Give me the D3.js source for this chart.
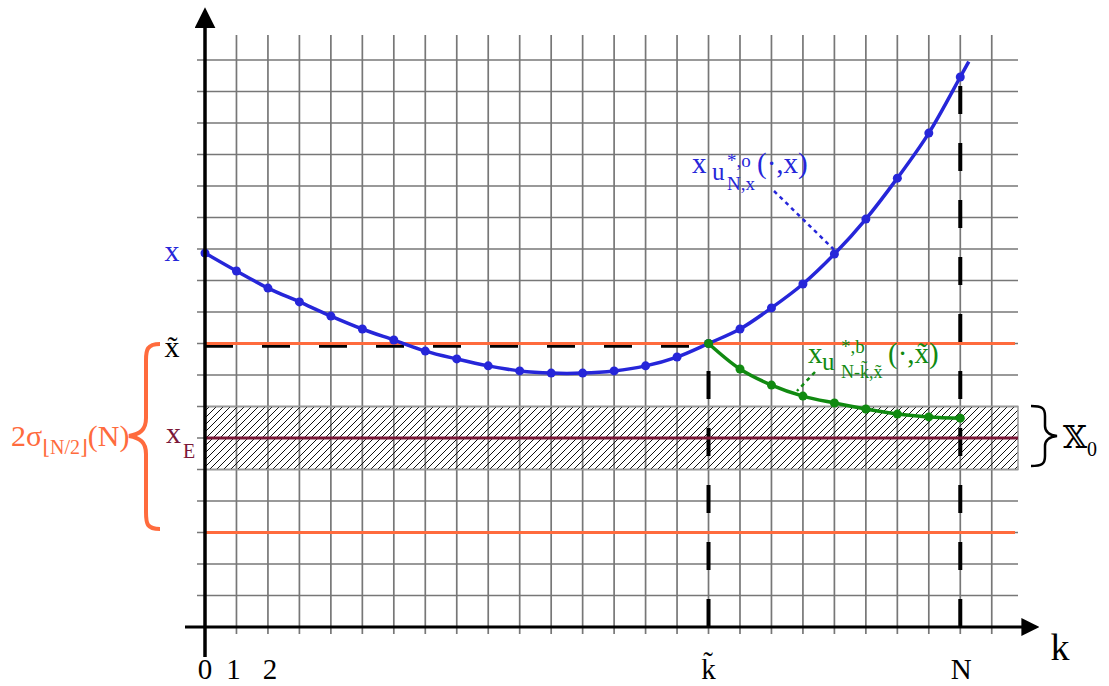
<!DOCTYPE html>
<html>
<head>
<meta charset="utf-8">
<script src="https://cdn.jsdelivr.net/npm/d3@7"></script>
<style>
  body { margin: 0; background: #fff; }
  text { font-family: "Liberation Serif", "DejaVu Serif", serif; }
</style>
</head>
<body>
<svg width="1109" height="686"></svg>
<script>
//Steps k of the trajectory and the values
const kSteps = [0, 1, 2, 3, 4, 5, 6, 7, 8, 9, 10, 11, 12, 13, 14, 15, 16, 17, 18, 19, 20, 21, 22, 23, 24];
const blueValues = [11.87, 11.30, 10.76, 10.32, 9.87, 9.46, 9.11, 8.76, 8.51, 8.29, 8.13, 8.06, 8.06, 8.13, 8.29, 8.57, 9.0, 9.46, 10.13, 10.89, 11.84, 12.95, 14.25, 15.68, 17.46];
//The blue curve keeps going a bit after the last marker
const blueTail = [24.27, 17.95];
const greenSteps = [16, 17, 18, 19, 20, 21, 22, 23, 24];
const greenValues = [9.0, 8.19, 7.68, 7.33, 7.11, 6.92, 6.76, 6.67, 6.63];
//Levels on the vertical axis
const xTilde = 9, xE = 6, bandLow = 5, bandHigh = 7, sigmaLow = 3, sigmaHigh = 9;
const kTilde = 16, kN = 24;
const tickSteps = [0, 1, 2];
const tickLabels = ["0", "1", "2"];

let svg = d3.select("svg");
const BLUE = "#2626d9", GREEN = "#118a11", ORANGE = "#ff6b3d", WINE = "#7a1838";
const TILDE = "\u0303";

let x = d3.scaleLinear().domain([0, 25]).range([205, 205 + 25 * 31.47]);
let y = d3.scaleLinear().domain([0, 18]).range([627, 60]);
const xRight = 1018;

let defs = svg.append("defs");
//Hatch pattern for the target set band
defs.append("pattern")
    .attr("id", "hatch")
    .attr("patternUnits", "userSpaceOnUse")
    .attr("width", 7).attr("height", 7)
  .append("path")
    .attr("d", "M0,7 L7,0 M-2,2 L2,-2 M5,9 L9,5")
    .attr("stroke", "#111").attr("stroke-width", 1);
//Arrow heads for the axes
defs.append("marker")
    .attr("id", "arrow")
    .attr("viewBox", "0 0 10 10")
    .attr("refX", 2).attr("refY", 5)
    .attr("markerWidth", 6).attr("markerHeight", 6)
    .attr("markerUnits", "strokeWidth")
    .attr("orient", "auto")
  .append("path").attr("d", "M0,0 L10,5 L0,10 Z").attr("fill", "#000");

//Grid
let grid = svg.append("g").attr("stroke", "#777").attr("stroke-width", 1.7);
grid.selectAll(".v").data(d3.range(1, 26)).enter().append("line")
    .attr("x1", d => x(d)).attr("x2", d => x(d))
    .attr("y1", 35).attr("y2", 634);
grid.selectAll(".h").data(d3.range(1, 19)).enter().append("line")
    .attr("x1", 197).attr("x2", xRight)
    .attr("y1", d => y(d)).attr("y2", d => y(d));

//Hatched band around x_E
svg.append("rect")
    .attr("x", x(0)).attr("y", y(bandHigh))
    .attr("width", xRight - x(0)).attr("height", y(bandLow) - y(bandHigh))
    .attr("fill", "url(#hatch)")
    .attr("stroke", "#999").attr("stroke-width", 1.5);

//Black dashed guides
svg.append("line")
    .attr("x1", x(0)).attr("x2", x(kTilde))
    .attr("y1", y(xTilde) + 2.5).attr("y2", y(xTilde) + 2.5)
    .attr("stroke", "#000").attr("stroke-width", 3.5)
    .attr("stroke-dasharray", "28,29");
svg.selectAll(".vdash").data([[kTilde, xTilde], [kN, 17.8]]).enter().append("line")
    .attr("x1", d => x(d[0])).attr("x2", d => x(d[0]))
    .attr("y1", y(0)).attr("y2", d => y(d[1]))
    .attr("stroke", "#000").attr("stroke-width", 4)
    .attr("stroke-dasharray", "28,29");

//Orange levels and x_E line
svg.selectAll(".orange").data([sigmaHigh, sigmaLow]).enter().append("line")
    .attr("x1", x(0)).attr("x2", 1015)
    .attr("y1", d => y(d)).attr("y2", d => y(d))
    .attr("stroke", ORANGE).attr("stroke-width", 3.2);
svg.append("line")
    .attr("x1", x(0)).attr("x2", xRight)
    .attr("y1", y(xE)).attr("y2", y(xE))
    .attr("stroke", WINE).attr("stroke-width", 3.2);

//Curves
let line = d3.line().x(d => x(d[0])).y(d => y(d[1])).curve(d3.curveCatmullRom.alpha(0.5));
let bluePts = kSteps.map((k, i) => [k, blueValues[i]]);
let greenPts = greenSteps.map((k, i) => [k, greenValues[i]]);
svg.append("path").datum(bluePts.concat([blueTail]))
    .attr("d", line).attr("fill", "none")
    .attr("stroke", BLUE).attr("stroke-width", 3.5);
svg.selectAll(".bdot").data(bluePts).enter().append("circle")
    .attr("cx", d => x(d[0])).attr("cy", d => y(d[1])).attr("r", 4.5).attr("fill", BLUE);
svg.append("path").datum(greenPts)
    .attr("d", line).attr("fill", "none")
    .attr("stroke", GREEN).attr("stroke-width", 3.5);
svg.selectAll(".gdot").data(greenPts).enter().append("circle")
    .attr("cx", d => x(d[0])).attr("cy", d => y(d[1])).attr("r", 4.5).attr("fill", GREEN);

//Leader lines to the curve labels
svg.append("line")
    .attr("x1", 774).attr("y1", 191).attr("x2", x(20)).attr("y2", y(blueValues[20]) - 4)
    .attr("stroke", BLUE).attr("stroke-width", 2.5).attr("stroke-dasharray", "4,4");
svg.append("line")
    .attr("x1", 815).attr("y1", 372).attr("x2", 797).attr("y2", 391)
    .attr("stroke", GREEN).attr("stroke-width", 2.5).attr("stroke-dasharray", "4,4");

//Axes
svg.append("line")
    .attr("x1", x(0)).attr("x2", x(0)).attr("y1", 657).attr("y2", 24)
    .attr("stroke", "#000").attr("stroke-width", 3.5).attr("marker-end", "url(#arrow)");
svg.append("line")
    .attr("x1", 185).attr("x2", 1025).attr("y1", y(0)).attr("y2", y(0))
    .attr("stroke", "#000").attr("stroke-width", 3).attr("marker-end", "url(#arrow)");

//Text helper
function label(px, py, str, size, color, anchor) {
  return svg.append("text").attr("x", px).attr("y", py)
      .attr("font-size", size).attr("fill", color)
      .attr("text-anchor", anchor || "start").text(str);
}

//Tick labels on the k axis
tickSteps.forEach((k, i) => label(x(k) + (i == 1 ? -3 : i == 2 ? 2 : 0), 679, tickLabels[i], 29, "#000", "middle"));
label(x(kTilde), 679, "k" + TILDE, 29, "#000", "middle");
label(x(kN) + 1, 679, "N", 29, "#000", "middle");
label(1060, 660, "k", 38, "#000", "middle");

//Labels on the vertical axis
label(172, 261, "x", 30, BLUE, "middle");
label(172, 357, "x" + TILDE, 30, "#000", "middle");
let xe = svg.append("text").attr("x", 166).attr("y", 443).attr("fill", WINE).attr("font-size", 30);
xe.append("tspan").text("x");
xe.append("tspan").attr("font-size", 20).attr("dx", 2).attr("dy", 15).text("E");

//Orange sigma label with brace
let sig = svg.append("text").attr("x", 11).attr("y", 446).attr("fill", ORANGE).attr("font-size", 30);
sig.append("tspan").text("2σ");
sig.append("tspan").attr("font-size", 20).attr("dy", 8).text("⌊N/2⌋");
sig.append("tspan").attr("dy", -8).text("(N)");
svg.append("path")
    .attr("d", "M160,344 C147,344 146,350 146,360 L146,418 C146,430 140,434 129,436 C140,438 146,442 146,454 L146,512 C146,524 147,529 160,529")
    .attr("fill", "none").attr("stroke", ORANGE).attr("stroke-width", 4);

//Black brace and target set label
svg.append("path")
    .attr("d", "M1031,406 C1042,406 1045,408 1045,416 L1045,426 C1045,432 1049,435 1057,436 C1049,437 1045,440 1045,446 L1045,456 C1045,464 1042,466 1031,466")
    .attr("fill", "none").attr("stroke", "#000").attr("stroke-width", 2.5);
let xs = svg.append("text").attr("x", 1063).attr("y", 448).attr("font-size", 31);
xs.append("tspan").style("font-family", "DejaVu Serif, DejaVu Sans, serif").text("𝕏");
xs.append("tspan").attr("font-size", 20).attr("dy", 8).text("0");

//Blue curve label
let bl = svg.append("text").attr("x", 692).attr("y", 173).attr("fill", BLUE).attr("font-size", 29);
bl.append("tspan").text("x");
bl.append("tspan").attr("font-size", 25).attr("x", 712).attr("y", 180).text("u");
bl.append("tspan").attr("font-size", 19).attr("x", 727).attr("y", 167).text("*,o");
bl.append("tspan").attr("font-size", 19).attr("x", 727).attr("y", 190).text("N,x");
bl.append("tspan").attr("x", 757).attr("y", 173).text("(·,x)");

//Green curve label
let gl = svg.append("text").attr("x", 808).attr("y", 363).attr("fill", GREEN).attr("font-size", 29);
gl.append("tspan").text("x");
gl.append("tspan").attr("font-size", 25).attr("x", 822).attr("y", 370).text("u");
gl.append("tspan").attr("font-size", 19).attr("x", 841).attr("y", 353).text("*,b");
gl.append("tspan").attr("font-size", 18).attr("x", 841).attr("y", 378).text("N-k" + TILDE + ",x" + TILDE);
gl.append("tspan").attr("x", 888).attr("y", 363).text("(·,x" + TILDE + ")");
</script>
</body>
</html>
